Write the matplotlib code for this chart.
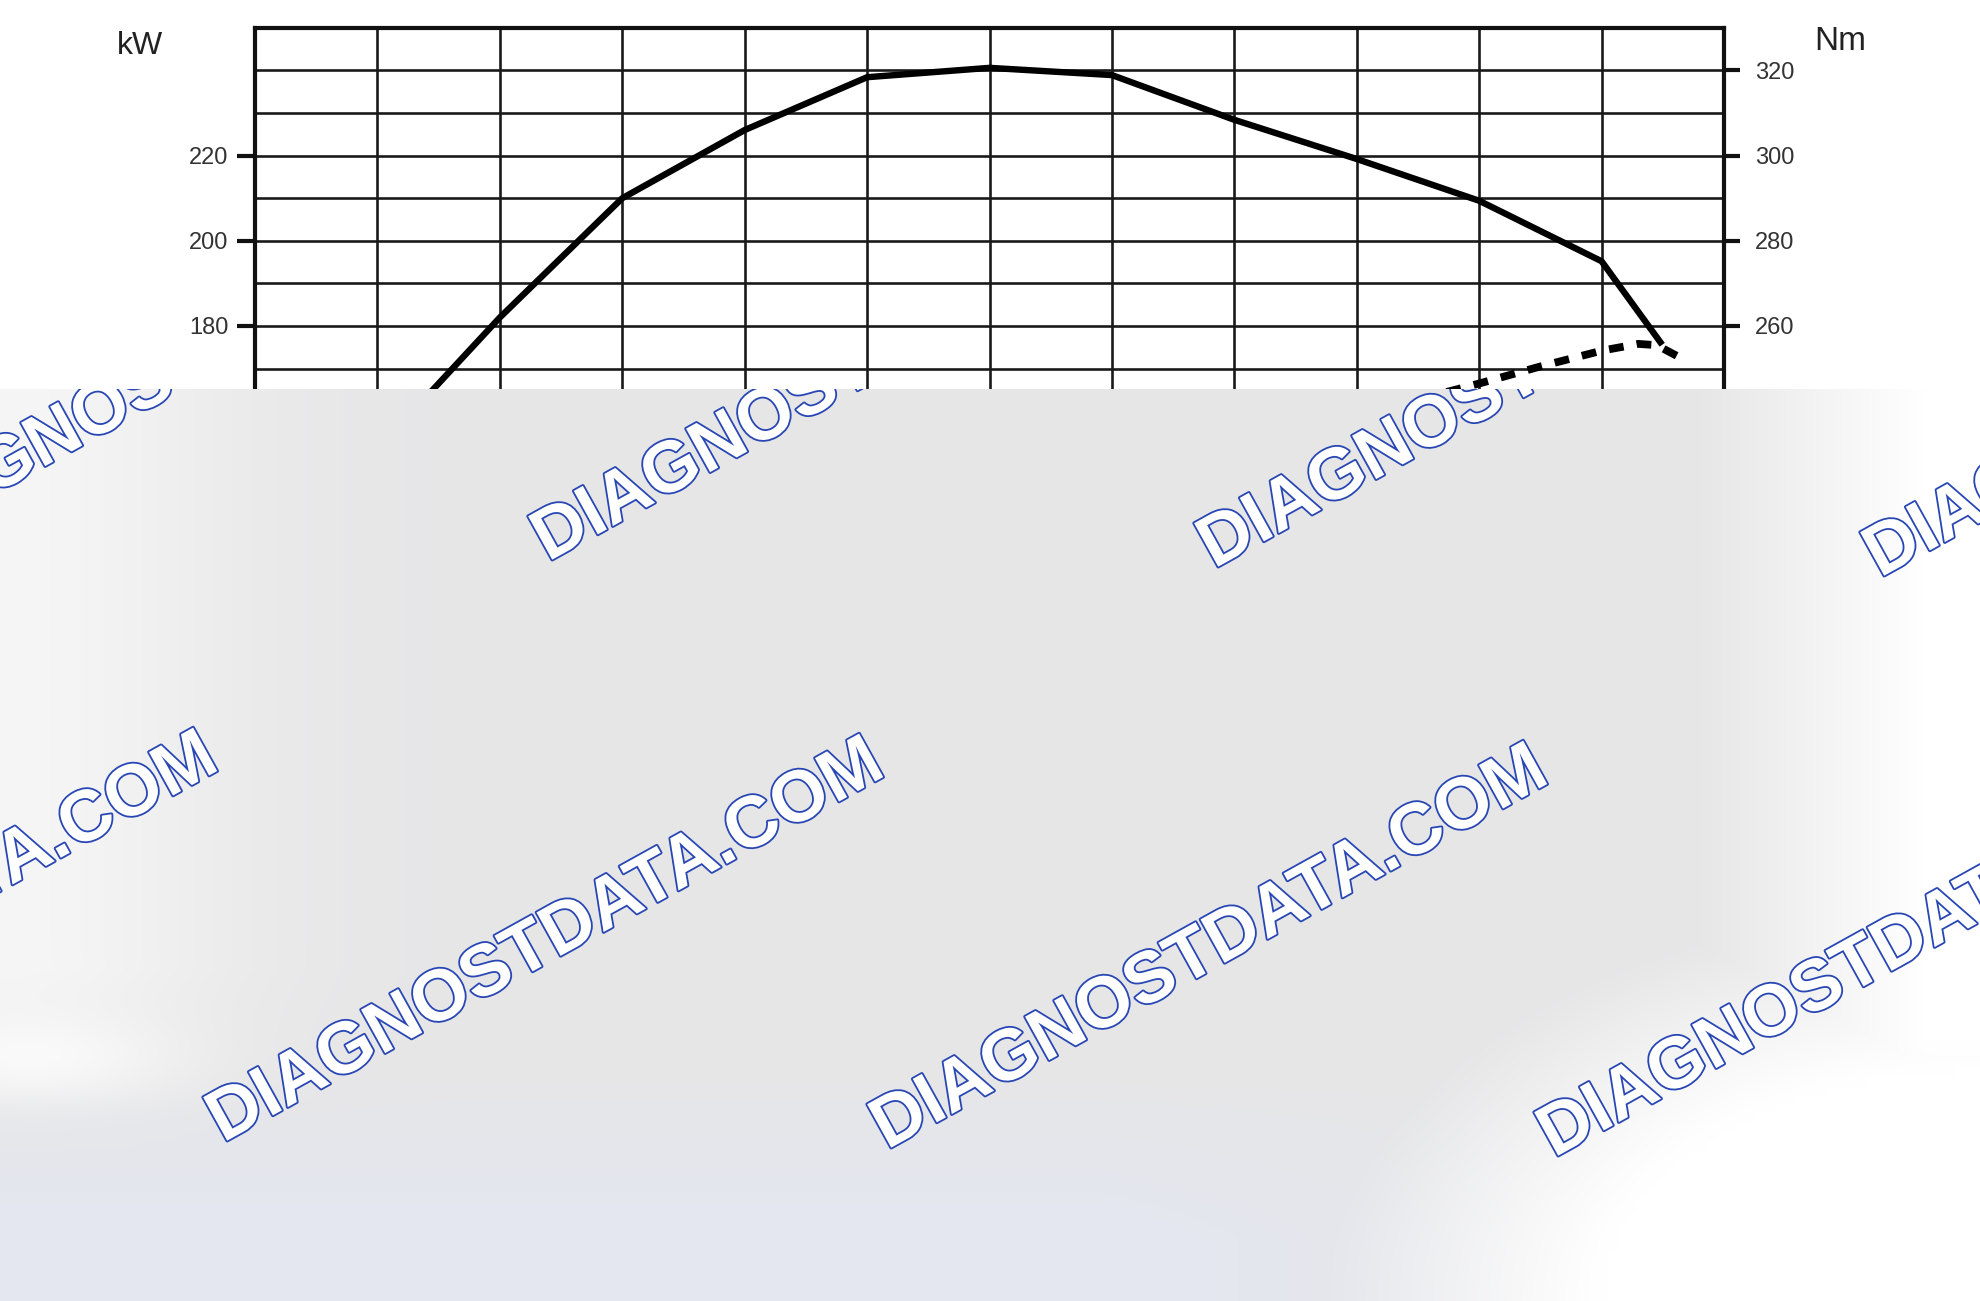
import numpy as np
import matplotlib.pyplot as plt
import matplotlib.patheffects as pe

plt.rcParams['font.family'] = ['Liberation Sans', 'DejaVu Sans']

# engine speed grid (rpm, tick labels hidden under the overlay)
rpm_grid = [1000, 1500, 2000, 2500, 3000, 3500, 4000, 4500, 5000, 5500, 6000, 6500, 7000]

# torque curve (Nm, right axis)
torque_rpm = [1000, 1500, 2000, 2500, 3000, 3500, 4000, 4500, 5000, 5500, 6000, 6500, 6740]
torque_nm = [199, 231, 262, 290, 306, 318.4, 320.6, 318.9, 308.4, 299.2, 289.4, 275.2, 256.2]

# power curve (kW, left axis)
power_rpm = [1000, 1500, 2000, 2500, 3000, 3500, 4000, 4500, 5000, 5500, 6000, 6250, 6500, 6650, 6725, 6840]
power_kw = [25, 44, 64, 84, 102, 118, 132, 143, 152, 159, 166.5, 170.5, 174.2, 175.8, 175.5, 172]

kw_ticks = [60, 80, 100, 120, 140, 160, 180, 200, 220]
nm_ticks = [140, 160, 180, 200, 220, 240, 260, 280, 300, 320]

W, H = 1980, 1301
fig = plt.figure(figsize=(W / 100, H / 100), dpi=100)

top_px, bot_px = 27.8, 879.8
ax = fig.add_axes([255 / W, 1 - bot_px / H, (1724 - 255) / W, (bot_px - top_px) / H])
ax.set_xlim(1000, 7000)
ax.set_ylim(50, 250)
ax.set_xticks(rpm_grid)
ax.set_yticks(kw_ticks)
ax.set_yticks(np.arange(50, 251, 10), minor=True)
ax.grid(which='major', axis='x', color='#1a1a1a', lw=1.9)
ax.grid(which='both', axis='y', color='#1a1a1a', lw=1.9)
ax.tick_params(axis='x', length=0, labelbottom=False)
ax.tick_params(axis='y', which='major', direction='out', length=13, width=3,
               pad=6, labelsize=17, labelcolor='#333333', color='#111111')
ax.tick_params(axis='y', which='minor', length=0)
for s in ['left', 'top', 'right']:
    ax.spines[s].set_linewidth(3)
    ax.spines[s].set_color('#111111')

ax2 = ax.twinx()
ax2.set_ylim(130, 330)
ax2.set_yticks(nm_ticks)
ax2.tick_params(axis='y', direction='out', length=11.5, width=3, pad=11,
                labelsize=17, labelcolor='#333333', color='#111111')
for s in ax2.spines.values():
    s.set_visible(False)

ax2.plot(torque_rpm, torque_nm, color='black', lw=4.6, solid_joinstyle='round', zorder=5)
ax.plot(power_rpm, power_kw, color='black', lw=5.6, linestyle=(0, (1.9, 1.7)),
        dash_capstyle='butt', zorder=5)

fig.text(140 / W, 1 - 46 / H, 'kW', fontsize=23, color='#222222', ha='center', va='center')
fig.text(1840 / W, 1 - 42 / H, 'Nm', fontsize=24, color='#222222', ha='center', va='center')

# grey watermark overlay
oy = 389
ov = fig.add_axes([0, 0, 1, (H - oy) / H], zorder=20)
xs = np.linspace(0, W, 200)
ys = np.linspace(oy, H, 100)
X, Y = np.meshgrid(xs, ys)
base = np.stack([np.full_like(X, 0.903), np.full_like(X, 0.903), np.full_like(X, 0.908)], axis=-1)
blue = np.array([0.895, 0.907, 0.945])
tb = np.clip((Y - 1080) / 160, 0, 1) * np.clip((1600 - X) / 500, 0, 1)
img = base * (1 - tb[..., None]) + blue * tb[..., None]
tl = 0.62 * np.exp(-(X / 230) ** 2) * np.clip((1120 - Y) / 150, 0, 1)
tl += 0.55 * np.exp(-((X - 30) / 150) ** 2 - ((Y - 1065) / 45) ** 2)
tr = np.clip((X - 1700) / 230, 0, 1) * np.clip((1150 - Y) / 100, 0, 1)
d = np.sqrt(((X - W) / 540) ** 2 + ((Y - H) / 330) ** 2)
tbr = np.clip((1.2 - d) / 0.5, 0, 1)
t = np.clip(np.maximum.reduce([tl, tr, tbr]), 0, 1)
img = img * (1 - t[..., None]) + t[..., None]
ov.imshow(img, extent=[0, W, H, oy], aspect='auto', interpolation='bilinear')
ov.set_xlim(0, W)
ov.set_ylim(H, oy)
ov.axis('off')

marks = [(-117, 556), (548, 562), (1214, 569), (1880, 578),
         (-443, 1137), (223, 1143), (887, 1150), (1554, 1158)]
for mx, my in marks:
    ov.text(mx, my, 'DIAGNOSTDATA.COM', fontsize=52, fontweight='bold', color='white',
            rotation=29, rotation_mode='anchor', ha='left', va='baseline', clip_on=True,
            path_effects=[pe.Stroke(linewidth=2.6, foreground='#2846b4'), pe.Normal()])

fig.savefig('out.png', dpi=100, facecolor='white')
